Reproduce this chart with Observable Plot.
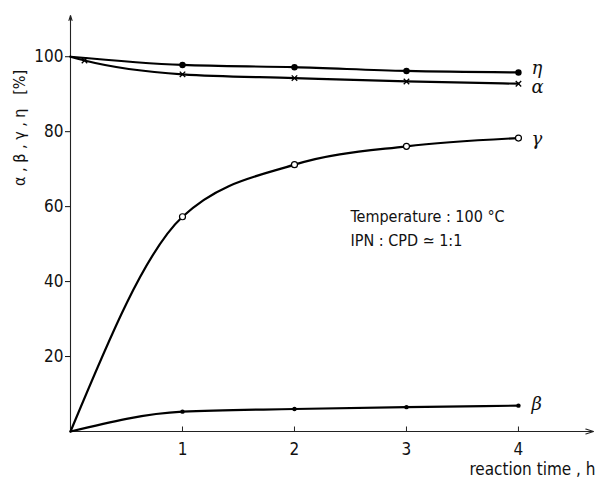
<!DOCTYPE html>
<html>
<head>
<meta charset="utf-8">
<script src="https://cdn.jsdelivr.net/npm/d3@7"></script>
<script src="https://cdn.jsdelivr.net/npm/@observablehq/plot@0.6"></script>
<style>
  html, body { margin: 0; padding: 0; background: #fff; }
</style>
</head>
<body>
<div id="chart"></div>
<script>
// reaction time, h
const time = [0, 1, 2, 3, 4];
// series values [%]
const eta   = [100, 97.8, 97.2, 96.2, 95.8];
const alpha = [100, 95.3, 94.3, 93.4, 92.8];
const gamma = [0, 57.3, 71.2, 76.1, 78.3];
const beta  = [0, 5.3, 6.0, 6.5, 6.9];
// extra early alpha reading
const alphaEarlyT = [0.125];
const alphaEarlyV = [99.0];

const seriesNames = ["η", "α", "γ", "β"];
const xTicks = [1, 2, 3, 4];
const yTicks = [20, 40, 60, 80, 100];
const note = ["Temperature : 100 °C", "IPN : CPD ≃ 1:1"];
const xLabel = "reaction time , h";
const yLabel = "α , β , γ , η   [%]";

const seriesValues = {"η": eta, "α": alpha, "γ": gamma, "β": beta};
const rows = [];
for (const s of seriesNames) {
  const vals = seriesValues[s];
  const pts = time.map((t, i) => ({series: s, t, v: vals[i]}));
  if (s === "α") {
    alphaEarlyT.forEach((t, i) => pts.push({series: s, t, v: alphaEarlyV[i]}));
    pts.sort((a, b) => a.t - b.t);
  }
  rows.push(...pts);
}
const markerRows = s => rows.filter(d => d.series === s && d.t > 0);
const endRow = s => [{series: s, t: 4, v: seriesValues[s][4]}];

const X_MAX = 4.67, Y_MAX = 111;
const FONT = "'DejaVu Sans Condensed', 'DejaVu Sans', sans-serif";
const labelOpts = {x: "t", y: "v", text: "series", dx: 13, textAnchor: "start", fontSize: 18, fontStyle: "italic", fontFamily: "'DejaVu Serif', serif"};

const chart = Plot.plot({
  width: 599,
  height: 478,
  marginLeft: 70,
  marginRight: 6,
  marginTop: 15,
  marginBottom: 47,
  x: {domain: [0, X_MAX], axis: null},
  y: {domain: [0, Y_MAX], axis: null},
  style: {fontFamily: FONT, fontSize: "17px", background: "#fff", color: "#111"},
  marks: [
    // axis lines with arrowheads
    Plot.arrow([{x1: 0, y1: 0, x2: X_MAX, y2: 0}], {x1: "x1", y1: "y1", x2: "x2", y2: "y2", stroke: "#222", strokeWidth: 1.1, headLength: 11, headAngle: 35}),
    Plot.arrow([{x1: 0, y1: 0, x2: 0, y2: Y_MAX}], {x1: "x1", y1: "y1", x2: "x2", y2: "y2", stroke: "#222", strokeWidth: 1.1, headLength: 7, headAngle: 35}),
    Plot.ruleX(xTicks, {x: d => d, y1: 0, y2: 1.2, stroke: "#222", strokeWidth: 1}),
    Plot.axisX({ticks: xTicks, tickFormat: "d", tickSize: 0, tickPadding: 11, fontSize: 17, label: null}),
    Plot.axisY({ticks: yTicks, tickFormat: "d", tickSize: 5, tickPadding: 2, fontSize: 17, label: null}),
    // y label
    Plot.text([yLabel], {x: -0.45, y: 81, text: d => d, rotate: -90, fontSize: 16, textAnchor: "middle"}),
    // x label
    Plot.text([xLabel], {x: X_MAX, y: 0, text: d => d, dy: 38, dx: 2, textAnchor: "end", fontSize: 17}),
    // curves
    Plot.line(rows, {x: "t", y: "v", z: "series", curve: "monotone-x", stroke: "#000", strokeWidth: 2.2}),
    // markers
    Plot.dot(markerRows("η"), {x: "t", y: "v", r: 3.2, fill: "#000"}),
    Plot.dot(markerRows("α"), {x: "t", y: "v", symbol: "times", r: 2.6, stroke: "#000", strokeWidth: 1.3}),
    Plot.dot(markerRows("γ"), {x: "t", y: "v", r: 3, fill: "#fff", stroke: "#000", strokeWidth: 1.2}),
    Plot.dot(markerRows("β"), {x: "t", y: "v", r: 2.2, fill: "#000"}),
    // series labels
    Plot.text(endRow("η"), {...labelOpts, dy: -4}),
    Plot.text(endRow("α"), {...labelOpts, dy: 4}),
    Plot.text(endRow("γ"), {...labelOpts, dy: 1}),
    Plot.text(endRow("β"), {...labelOpts, dy: -1}),
    // annotation
    Plot.text([note.join("\n")], {x: 2.5, y: 58, text: d => d, textAnchor: "start", lineAnchor: "top", lineHeight: 1.5, fontSize: 16, dy: -9})
  ]
});
document.getElementById("chart").appendChild(chart);
</script>
</body>
</html>
